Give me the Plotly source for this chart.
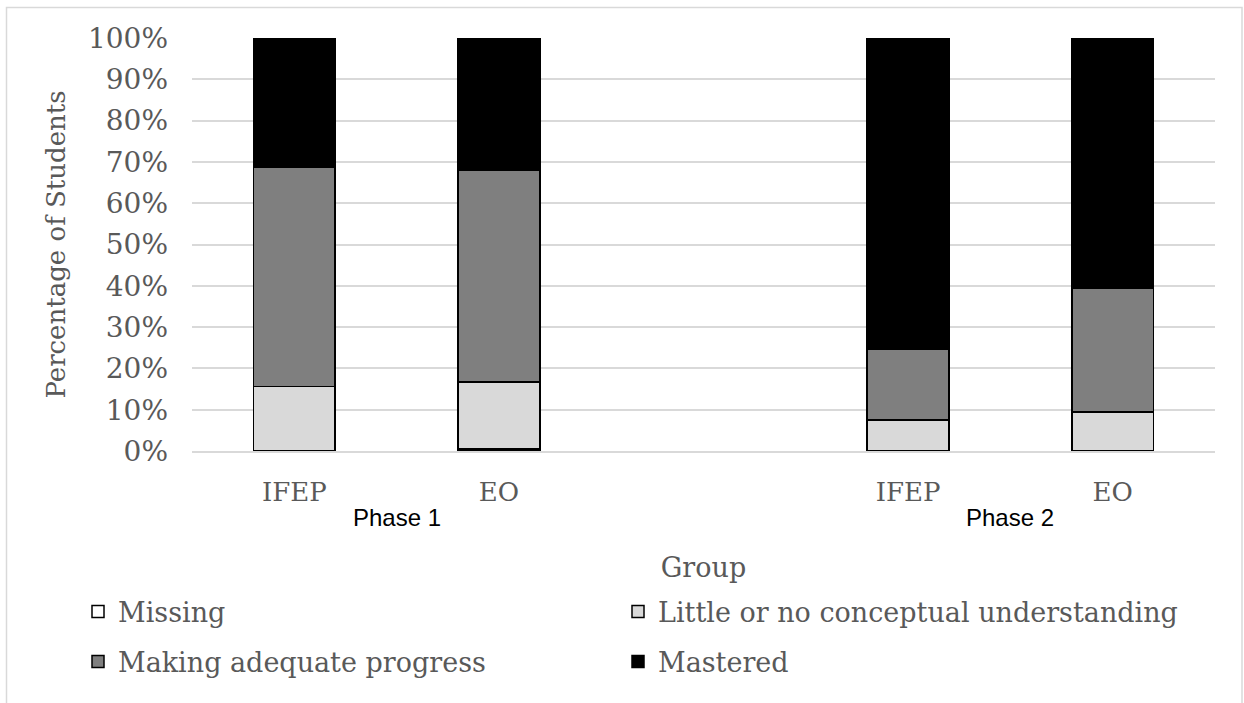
import plotly.graph_objects as go

# Data
categories = ["IFEP", "EO", "IFEP", "EO"]
cat_pos = [0, 1, 3, 4]
phases = ["Phase 1", "Phase 2"]
phase_pos = [0.5, 3.5]
missing = [0.0, 0.5, 0.0, 0.0]
little = [15.6, 16.2, 7.5, 9.5]
making = [53.0, 51.2, 17.2, 30.0]
mastered = [31.4, 32.1, 75.3, 60.5]
y_ticks = [0, 10, 20, 30, 40, 50, 60, 70, 80, 90, 100]

series = [
    ("Missing", missing, "#ffffff"),
    ("Little or no conceptual understanding", little, "#d9d9d9"),
    ("Making adequate progress", making, "#7f7f7f"),
    ("Mastered", mastered, "#000000"),
]
legend_ids = ["legend", "legend2", "legend3", "legend4"]

FONT = "DejaVu Serif"
GRAY = "#595959"

fig = go.Figure()
for (name, vals, col), leg in zip(series, legend_ids):
    fig.add_trace(go.Bar(
        x=cat_pos, y=vals, name=name, legend=leg, showlegend=True,
        marker=dict(color=col, line=dict(color="#000000", width=1.5)),
        width=0.4,
    ))

W, H = 1244, 703
ml, mr, mt, mb = 192, 29, 38, 252
pw = W - ml - mr
ph = H - mt - mb

def px_x(p):
    return (p - ml) / pw

def px_y(p):
    return (H - mb - p) / ph

def leg(xp, yp):
    return dict(
        orientation="h", xanchor="left", yanchor="middle",
        x=px_x(xp), y=px_y(yp), visible=True,
        font=dict(size=27, color=GRAY, family=FONT),
        bgcolor="rgba(0,0,0,0)",
    )

fig.update_layout(
    width=W, height=H,
    barmode="stack",
    showlegend=True,
    plot_bgcolor="white", paper_bgcolor="white",
    margin=dict(l=ml, r=mr, t=mt, b=mb, autoexpand=False),
    font=dict(family=FONT, color=GRAY, size=24),
    xaxis=dict(
        range=[-0.5, 4.5],
        tickmode="array", tickvals=cat_pos, ticktext=categories,
        showgrid=False, zeroline=False, showline=True,
        linecolor="#d9d9d9", linewidth=2, ticks="",
        ticklabelstandoff=17,
        tickfont=dict(size=26, color=GRAY, family=FONT),
        title=dict(text="Group", font=dict(size=27, color=GRAY, family=FONT), standoff=52),
    ),
    yaxis=dict(
        range=[0, 100],
        tickmode="array", tickvals=y_ticks,
        ticktext=[f"{v}%" for v in y_ticks],
        showgrid=True, gridcolor="#d9d9d9", gridwidth=1.5,
        zeroline=False, ticks="", ticklen=0,
        ticklabelstandoff=23,
        tickfont=dict(size=28, color=GRAY, family=FONT),
        title=dict(text="Percentage of Students", font=dict(size=26, color=GRAY, family=FONT), standoff=14),
    ),
    legend=leg(78, 612),
    legend2=leg(618, 612),
    legend3=leg(78, 662),
    legend4=leg(618, 662),
    bargap=0.6,
    shapes=[dict(
        type="rect", xref="paper", yref="paper",
        x0=px_x(6.5), x1=px_x(1242), y0=px_y(710), y1=px_y(7.5),
        line=dict(color="#d9d9d9", width=1.5), fillcolor="rgba(0,0,0,0)",
        layer="below",
    )],
    annotations=[
        dict(text=phases[0], x=phase_pos[0], xref="x", y=px_y(517), yref="paper",
             yanchor="middle", showarrow=False,
             font=dict(family="Liberation Sans Narrow, Liberation Sans", size=24, color="#000000")),
        dict(text=phases[1], x=phase_pos[1], xref="x", y=px_y(517), yref="paper",
             yanchor="middle", showarrow=False,
             font=dict(family="Liberation Sans Narrow, Liberation Sans", size=24, color="#000000")),
    ],
)

fig.write_html("out.html", config={"displayModeBar": False},
               post_script="document.body.style.margin='0px';")
